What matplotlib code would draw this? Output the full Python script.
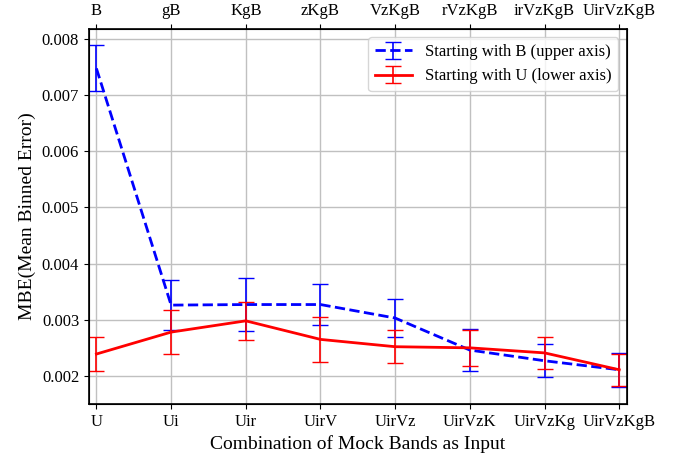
import numpy as np
import matplotlib
matplotlib.use("Agg")
import matplotlib.pyplot as plt

plt.rcParams['font.family'] = ['Liberation Serif', 'DejaVu Serif']
plt.rcParams['mathtext.fontset'] = 'stix'

lower_labels = ['U', 'Ui', 'Uir', 'UirV', 'UirVz', 'UirVzK', 'UirVzKg', 'UirVzKgB']
upper_labels = ['B', 'gB', 'KgB', 'zKgB', 'VzKgB', 'rVzKgB', 'irVzKgB', 'UirVzKgB']

mbe_b = [0.00747, 0.00326, 0.00327, 0.00327, 0.00303, 0.00246, 0.00227, 0.00211]
err_b = [0.00041, 0.00044, 0.00047, 0.00037, 0.00033, 0.00038, 0.00029, 0.00030]

mbe_u = [0.00239, 0.00278, 0.00298, 0.00265, 0.00252, 0.00250, 0.00241, 0.00211]
err_u = [0.00030, 0.00039, 0.00034, 0.00040, 0.00029, 0.00032, 0.00028, 0.00028]

x = np.arange(len(lower_labels))

fig = plt.figure(figsize=(6.79, 4.54), dpi=100)
ax = fig.add_axes([0.131, 0.110, 0.792, 0.826])

ax.errorbar(x, mbe_b, yerr=err_b, color='blue', ls='--', lw=2, elinewidth=1.2,
            capsize=6, label='Starting with B (upper axis)')
ax.errorbar(x, mbe_u, yerr=err_u, color='red', ls='-', lw=2, elinewidth=1.2,
            capsize=6, label='Starting with U (lower axis)')

ax.set_xlim(-0.1, 7.1)
ax.set_ylim(0.0015, 0.00817)
ax.set_xticks(x)
ax.set_xticklabels(lower_labels, fontsize=12)
ax.set_yticks([0.002, 0.003, 0.004, 0.005, 0.006, 0.007, 0.008])
ax.tick_params(labelsize=12)
ax.grid(True, color='#c0c0c0', lw=1)
ax.set_axisbelow(True)
ax.set_xlabel('Combination of Mock Bands as Input', fontsize=14)
ax.set_ylabel('MBE(Mean Binned Error)', fontsize=14)
for s in ax.spines.values():
    s.set_linewidth(1.2)

ax2 = ax.twiny()
ax2.set_xlim(ax.get_xlim())
ax2.set_xticks(x)
ax2.set_xticklabels(upper_labels, fontsize=12)

ax.legend(loc='upper right', fontsize=12, handlelength=2.2)

fig.savefig('out.png', dpi=100)
